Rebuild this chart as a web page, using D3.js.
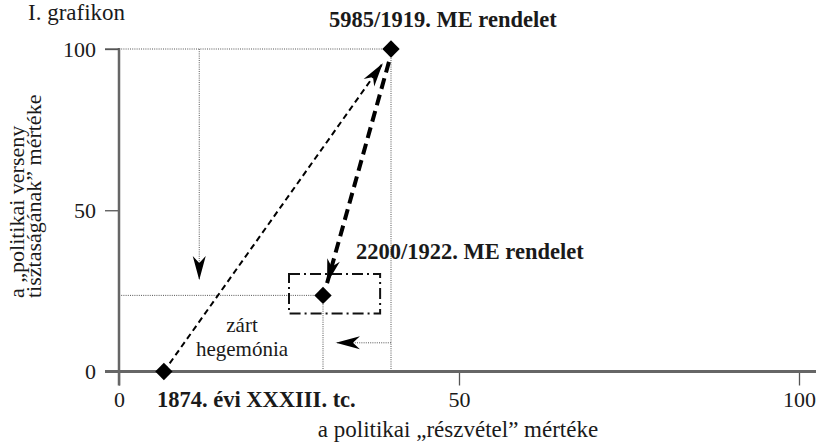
<!DOCTYPE html>
<html>
<head>
<meta charset="utf-8">
<script src="https://cdn.jsdelivr.net/npm/d3@7"></script>
<style>
  body { margin: 0; background: #fff; }
  svg text { font-family: "Liberation Serif", "Tinos", "Times New Roman", "DejaVu Serif", serif; fill: #1a1a1a; }
</style>
</head>
<body>
<div id="chart"></div>
<script>
// chart values
var pointLabels = ["1874. évi XXXIII. tc.", "5985/1919. ME rendelet", "2200/1922. ME rendelet"];
var participation = [6.6, 40, 30];
var purity = [0, 100, 23.6];
var xTicks = [0, 50, 100];
var yTicks = [0, 50, 100];

// arrows: [x1, y1, x2, y2] in data units
var arrowThin = [6.6, 0, 38.8, 95.6];
var arrowThick = [39.7, 96, 30.6, 27.4];
var arrowDown = [11.8, 100, 11.8, 28.4];
var arrowLeft = [40, 8.9, 31.9, 8.9];

// dash-dot box around the 1922 point
var boxX = [25, 38.4];
var boxY = [18, 30.2];

var svgWidth = 816;
var svgHeight = 444;
var serif = "'Liberation Serif', 'Tinos', 'Times New Roman', 'DejaVu Serif', serif";

var svg = d3.select("#chart")
  .append("svg")
  .attr("width", svgWidth)
  .attr("height", svgHeight)
  .attr("font-family", serif);

var xScale = d3.scaleLinear().domain([0, 100]).range([119, 799]);
var yScale = d3.scaleLinear().domain([0, 100]).range([371.5, 49]);

// arrow heads
var defs = svg.append("defs");
defs.append("marker")
  .attr("id", "head")
  .attr("markerUnits", "userSpaceOnUse")
  .attr("viewBox", "-25 -8 27 16")
  .attr("refX", 0)
  .attr("refY", 0)
  .attr("markerWidth", 27)
  .attr("markerHeight", 16)
  .attr("orient", "auto")
  .append("path")
  .attr("d", "M0,0 L-24,-6.5 L-17,0 L-24,6.5 Z")
  .attr("fill", "#000");

// title
svg.append("text")
  .attr("x", 28)
  .attr("y", 20)
  .style("font-size", "23px")
  .text("I. grafikon");

// dotted guide lines
var guides = [
  [0, purity[1], participation[1], purity[1]],
  [participation[1], purity[1], participation[1], 0],
  [0, purity[2], participation[2], purity[2]],
  [participation[2], purity[2], participation[2], 0]
];
svg.selectAll("line.guide")
  .data(guides)
  .enter()
  .append("line")
  .attr("class", "guide")
  .attr("x1", d => xScale(d[0]))
  .attr("y1", d => yScale(d[1]))
  .attr("x2", d => xScale(d[2]))
  .attr("y2", d => yScale(d[3]))
  .attr("stroke", "#555")
  .attr("stroke-width", 1)
  .attr("stroke-dasharray", "1,1.2");

// small dotted arrows
[arrowDown, arrowLeft].forEach(function(a) {
  svg.append("line")
    .attr("x1", xScale(a[0]))
    .attr("y1", yScale(a[1]))
    .attr("x2", xScale(a[2]))
    .attr("y2", yScale(a[3]))
    .attr("stroke", "#555")
    .attr("stroke-width", 1)
    .attr("stroke-dasharray", "1,1.2")
    .attr("marker-end", "url(#head)");
});

// axes (d3 ticks, own domain lines)
var bottomAxis = d3.axisBottom(xScale).tickValues(xTicks).tickSize(14).tickPadding(6);
var leftAxis = d3.axisLeft(yScale).tickValues(yTicks).tickSize(14).tickPadding(9);

var xg = svg.append("g")
  .attr("transform", `translate(0, ${yScale(0)})`)
  .call(bottomAxis);
var yg = svg.append("g")
  .attr("transform", `translate(${xScale(0)}, 0)`)
  .call(leftAxis);

[xg, yg].forEach(function(g) {
  g.attr("font-family", serif).attr("font-size", 22);
  g.select(".domain").remove();
  g.selectAll("line").attr("stroke", "#555").attr("stroke-width", 1.3);
  g.selectAll("text").attr("fill", "#1a1a1a");
});

svg.append("line")
  .attr("x1", xScale(0))
  .attr("x2", xScale(0))
  .attr("y1", yScale(100) - 1)
  .attr("y2", yScale(0) + 14)
  .attr("stroke", "#666")
  .attr("stroke-width", 2.5);
svg.append("line")
  .attr("x1", xScale(0) - 14)
  .attr("x2", svgWidth)
  .attr("y1", yScale(0))
  .attr("y2", yScale(0))
  .attr("stroke", "#666")
  .attr("stroke-width", 3);
svg.append("line")
  .attr("x1", xScale(0) - 14)
  .attr("x2", xScale(0))
  .attr("y1", yScale(100))
  .attr("y2", yScale(100))
  .attr("stroke", "#555")
  .attr("stroke-width", 1.3);

// dash-dot box
svg.append("rect")
  .attr("x", xScale(boxX[0]))
  .attr("y", yScale(boxY[1]))
  .attr("width", xScale(boxX[1]) - xScale(boxX[0]))
  .attr("height", yScale(boxY[0]) - yScale(boxY[1]))
  .attr("fill", "none")
  .attr("stroke", "#111")
  .attr("stroke-width", 2)
  .attr("stroke-dasharray", "11,4,2,4");

// dashed arrows
svg.append("line")
  .attr("x1", xScale(arrowThin[0]))
  .attr("y1", yScale(arrowThin[1]))
  .attr("x2", xScale(arrowThin[2]))
  .attr("y2", yScale(arrowThin[3]))
  .attr("stroke", "#000")
  .attr("stroke-width", 2)
  .attr("stroke-dasharray", "6,4")
  .attr("marker-end", "url(#head)");

svg.append("line")
  .attr("x1", xScale(arrowThick[0]))
  .attr("y1", yScale(arrowThick[1]))
  .attr("x2", xScale(arrowThick[2]))
  .attr("y2", yScale(arrowThick[3]))
  .attr("stroke", "#000")
  .attr("stroke-width", 4)
  .attr("stroke-dasharray", "11,6")
  .attr("marker-end", "url(#head)");

// diamonds
var pts = participation.map((v, i) => ({x: v, y: purity[i], label: pointLabels[i]}));
svg.selectAll("path.pt")
  .data(pts)
  .enter()
  .append("path")
  .attr("class", "pt")
  .attr("d", d3.symbol(d3.symbolSquare, 150))
  .attr("transform", d => `translate(${xScale(d.x)}, ${yScale(d.y)}) rotate(45)`)
  .attr("fill", "#000");

// point labels
var labelPos = [
  {x: 157, y: 407},
  {x: 329, y: 27},
  {x: 356, y: 259}
];
svg.selectAll("text.ptlabel")
  .data(pts)
  .enter()
  .append("text")
  .attr("class", "ptlabel")
  .attr("x", (d, i) => labelPos[i].x)
  .attr("y", (d, i) => labelPos[i].y)
  .style("font-size", "22.5px")
  .style("font-weight", "bold")
  .text(d => d.label);

// region label
svg.append("text")
  .attr("x", 242)
  .attr("y", 332)
  .attr("text-anchor", "middle")
  .style("font-size", "21px")
  .text("zárt");
svg.append("text")
  .attr("x", 242)
  .attr("y", 356)
  .attr("text-anchor", "middle")
  .style("font-size", "21px")
  .text("hegemónia");

// axis titles
svg.append("text")
  .attr("x", 458)
  .attr("y", 437)
  .attr("text-anchor", "middle")
  .style("font-size", "23px")
  .text("a politikai „részvétel” mértéke");

svg.append("text")
  .attr("transform", "translate(24, 298) rotate(-90)")
  .style("font-size", "22px")
  .text("a „politikai verseny");
svg.append("text")
  .attr("transform", "translate(41, 298) rotate(-90)")
  .style("font-size", "22px")
  .text("tisztaságának” mértéke");
</script>
</body>
</html>
